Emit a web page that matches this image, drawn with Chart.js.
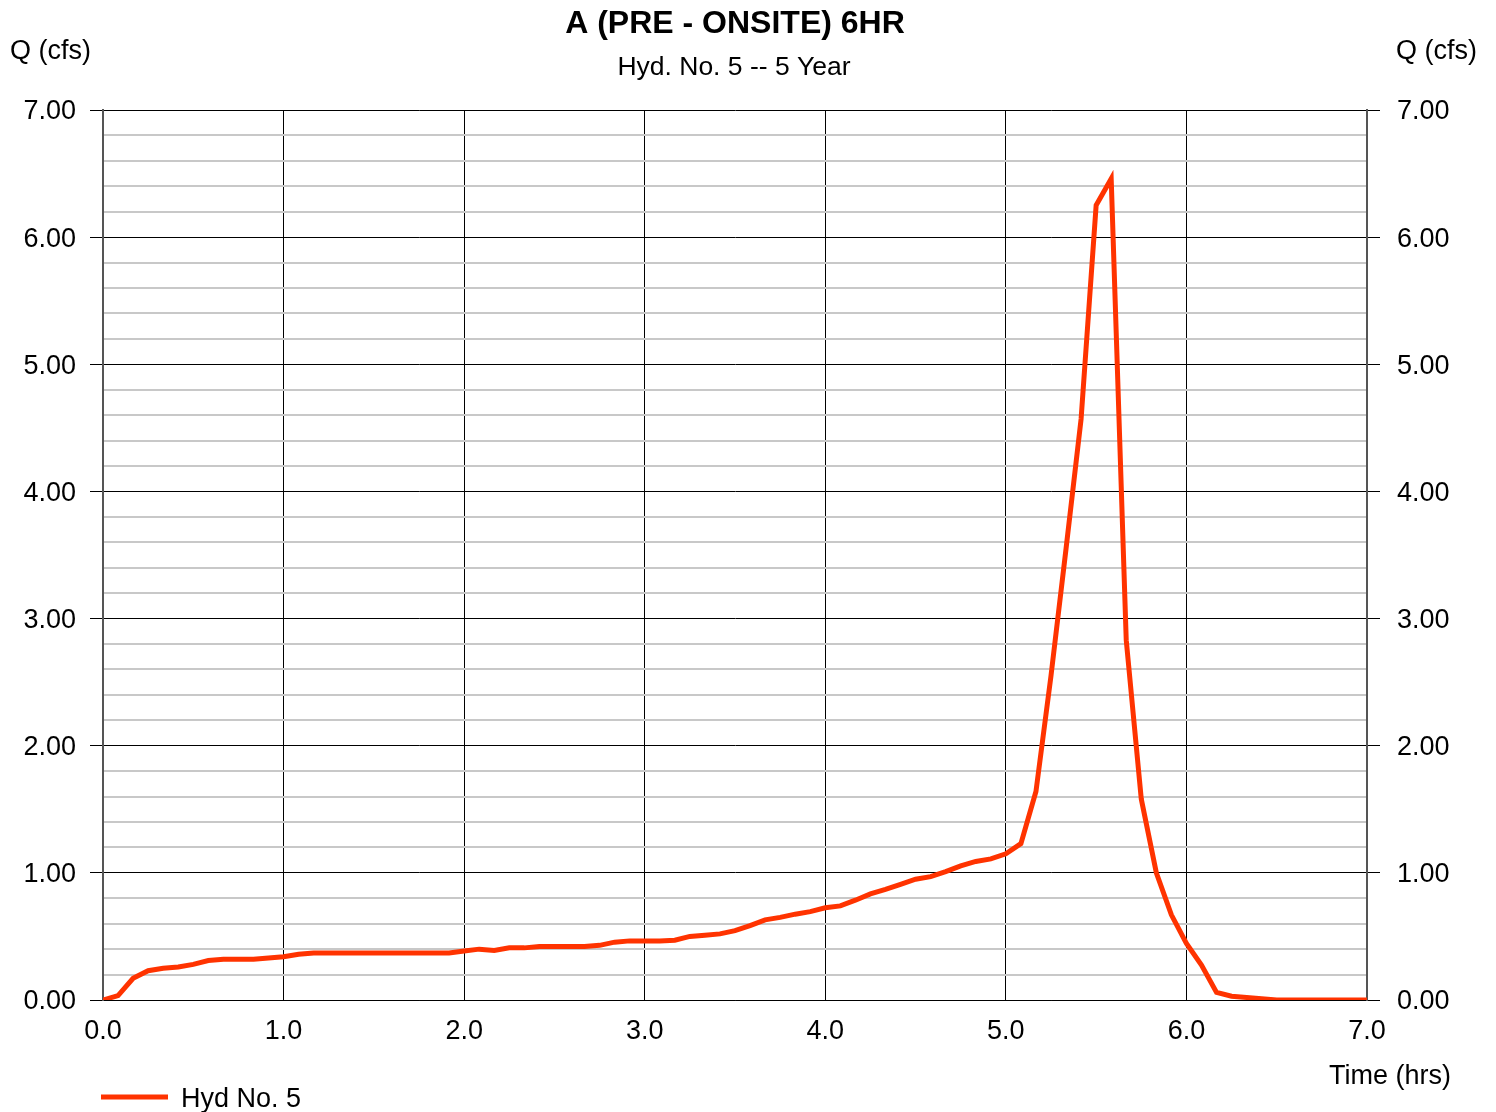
<!DOCTYPE html>
<html>
<head>
<meta charset="utf-8">
<title>A (PRE - ONSITE) 6HR</title>
<script src="https://cdn.jsdelivr.net/npm/chart.js@4.4.1/dist/chart.umd.min.js"></script>
<style>
  html, body { margin: 0; padding: 0; background: #fff; }
  #wrap { width: 1496px; height: 1112px; }
</style>
</head>
<body>
<div id="wrap"><canvas id="hydro" width="1496" height="1112"></canvas></div>
<script>
// Hydrograph, 5-minute time steps
const chartTitle = "A (PRE - ONSITE) 6HR";
const chartSubtitle = "Hyd. No. 5 -- 5 Year";
const seriesName = "Hyd No. 5";
const yLabel = "Q (cfs)";
const xLabel = "Time (hrs)";

const minutes = [
  0, 5, 10, 15, 20, 25, 30, 35, 40, 45, 50, 55,
  60, 65, 70, 75, 80, 85, 90, 95, 100, 105, 110, 115,
  120, 125, 130, 135, 140, 145, 150, 155, 160, 165, 170, 175,
  180, 185, 190, 195, 200, 205, 210, 215, 220, 225, 230, 235,
  240, 245, 250, 255, 260, 265, 270, 275, 280, 285, 290, 295,
  300, 305, 310, 315, 320, 325, 330, 335, 340, 345, 350, 355,
  360, 365, 370, 375, 380, 385, 390, 395, 400, 405, 410, 415,
  420
];
const flow = [
  0.00, 0.035, 0.17, 0.23, 0.25, 0.26, 0.28, 0.31, 0.32, 0.32, 0.32, 0.33,
  0.34, 0.36, 0.37, 0.37, 0.37, 0.37, 0.37, 0.37, 0.37, 0.37, 0.37, 0.37,
  0.385, 0.40, 0.39, 0.41, 0.41, 0.42, 0.42, 0.42, 0.42, 0.43, 0.455, 0.465,
  0.465, 0.465, 0.47, 0.50, 0.51, 0.52, 0.545, 0.585, 0.63, 0.65, 0.675, 0.695,
  0.725, 0.74, 0.785, 0.835, 0.87, 0.91, 0.95, 0.97, 1.01, 1.055, 1.09, 1.11,
  1.15, 1.23, 1.64, 2.55, 3.55, 4.57, 6.25, 6.46, 2.83, 1.58, 1.00, 0.67,
  0.445, 0.275, 0.06, 0.03, 0.02, 0.01, 0.00, 0.00, 0.00, 0.00, 0.00, 0.00,
  0.00
];

const FONT = "'Liberation Sans', Arial, sans-serif";
const LINE_COLOR = "#ff3300";

const isMajor = (v) => Math.abs(v - Math.round(v)) < 1e-6;

// titles, axis captions and legend drawn straight on the canvas
const textPlugin = {
  id: "hydText",
  afterDraw(chart) {
    const c = chart.ctx;
    c.save();
    c.fillStyle = "#000";
    c.textBaseline = "middle";
    c.textAlign = "center";
    c.font = "bold 32px " + FONT;
    c.fillText(chartTitle, 735, 24);
    c.font = "26.5px " + FONT;
    c.fillText(chartSubtitle, 734, 68);
    c.font = "27px " + FONT;
    c.textAlign = "left";
    c.fillText(yLabel, 10, 52);
    c.textAlign = "right";
    c.fillText(yLabel, 1477, 52);
    c.fillText(xLabel, 1451, 1077);
    // legend
    c.strokeStyle = LINE_COLOR;
    c.lineWidth = 5;
    c.beginPath();
    c.moveTo(101, 1097);
    c.lineTo(168, 1097);
    c.stroke();
    c.textAlign = "left";
    c.fillText(seriesName, 181, 1100);
    c.restore();
  }
};

const yGrid = {
  color: (ctx) => isMajor(ctx.tick.value) ? "#000" : "#c8c8c8",
  lineWidth: (ctx) => isMajor(ctx.tick.value) ? 1 : 2,
  tickColor: (ctx) => isMajor(ctx.tick.value) ? "#000" : "rgba(0,0,0,0)",
  tickLength: 13
};
const yTicks = {
  stepSize: 0.2,
  maxTicksLimit: 100,
  autoSkip: false,
  labelOffset: 2,
  color: "#000",
  font: { family: FONT, size: 27 },
  callback: (v) => isMajor(v) ? Number(v).toFixed(2) : ""
};

new Chart(document.getElementById("hydro"), {
  type: "line",
  data: {
    datasets: [{
      label: seriesName,
      data: minutes.map((m, i) => ({ x: m / 60, y: flow[i] })),
      borderColor: LINE_COLOR,
      borderWidth: 5,
      pointRadius: 0,
      tension: 0,
      fill: false
    }]
  },
  options: {
    responsive: false,
    animation: false,
    layout: { padding: { top: 110, left: 0, right: 0, bottom: 0 } },
    plugins: { legend: { display: false }, title: { display: false }, tooltip: { enabled: false } },
    scales: {
      x: {
        type: "linear",
        min: 0, max: 7,
        border: { color: "#000", width: 1 },
        grid: { color: "#000", lineWidth: 1, drawTicks: false },
        ticks: {
          stepSize: 1,
          color: "#000",
          padding: 15,
          font: { family: FONT, size: 27 },
          callback: (v) => Number(v).toFixed(1)
        },
        afterFit: (s) => { s.height = 112; }
      },
      y: {
        position: "left",
        min: 0, max: 7,
        border: { color: "#555", width: 2 },
        grid: yGrid,
        ticks: Object.assign({ padding: 14 }, yTicks),
        afterFit: (s) => { s.width = 103; }
      },
      y2: {
        position: "right",
        min: 0, max: 7,
        border: { color: "#555", width: 2 },
        grid: Object.assign({}, yGrid, { drawOnChartArea: false }),
        ticks: Object.assign({ padding: 17 }, yTicks),
        afterFit: (s) => { s.width = 129; }
      }
    }
  },
  plugins: [textPlugin]
});
</script>
</body>
</html>
